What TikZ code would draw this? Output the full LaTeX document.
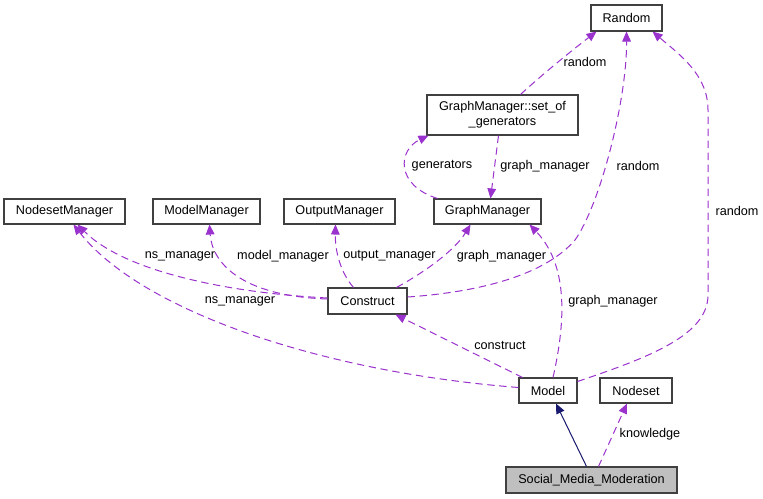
\documentclass[tikz,border=0pt]{standalone}
\usepackage{fontspec}
\setmainfont{Liberation Sans}
\usetikzlibrary{arrows.meta,calc}
\definecolor{edgec}{HTML}{9A32CD}
\definecolor{navyc}{HTML}{191970}
\definecolor{boxc}{HTML}{404040}
\definecolor{grayfill}{HTML}{BFBFBF}
\begin{document}
\begin{tikzpicture}[x=0.75pt,y=-0.75pt,
 cls/.style={draw=boxc,line width=0.8pt,fill=white,inner sep=0pt,align=center,font=\fontsize{9.5}{11}\selectfont},
 dep/.style={draw=edgec,line width=0.75pt,dash pattern=on 5.5pt off 3.5pt,-{Triangle[length=7.5pt,width=6.5pt,fill=edgec]}},
 inh/.style={draw=navyc,line width=0.75pt,-{Triangle[length=7.5pt,width=6.5pt,fill=navyc]}},
 lab/.style={font=\fontsize{9.5}{11}\selectfont,inner sep=0pt}]
\fill[white] (0,0) rectangle (763,499);
\useasboundingbox (0,0) rectangle (763,499);

% classes
\node[cls,minimum width=71*0.75pt,minimum height=26*0.75pt] (Random) at (626.5,18) {Random};
\node[cls,minimum width=151*0.75pt,minimum height=40*0.75pt] (sog) at (502.5,115) {GraphManager::set\_of\\\_generators};
\node[cls,minimum width=107*0.75pt,minimum height=25*0.75pt] (GM) at (487.5,211.5) {GraphManager};
\node[cls,minimum width=121*0.75pt,minimum height=25*0.75pt] (NM) at (64.5,211.5) {NodesetManager};
\node[cls,minimum width=107*0.75pt,minimum height=25*0.75pt] (MM) at (206.5,211.5) {ModelManager};
\node[cls,minimum width=111*0.75pt,minimum height=25*0.75pt] (OM) at (339.5,211.5) {OutputManager};
\node[cls,minimum width=79*0.75pt,minimum height=26*0.75pt] (Construct) at (367.5,301) {Construct};
\node[cls,minimum width=58*0.75pt,minimum height=25*0.75pt] (Model) at (548,390.5) {Model};
\node[cls,minimum width=72*0.75pt,minimum height=25*0.75pt] (Nodeset) at (636,390.5) {Nodeset};
\node[cls,fill=grayfill,minimum width=171*0.75pt,minimum height=26*0.75pt] (SMM) at (591.5,480) {Social\_Media\_Moderation};

% connectors
\draw[dep] ($(sog.north)+(18,0)$) .. controls (545,72) and (575,48) .. ($(Random.south)+(-30,0)$);
\draw[dep] ($(GM.north west)+(4,0)$) .. controls (395,185) and (398,150) .. ($(sog.south west)+(2,0)$);
\draw[dep] ($(sog.south)+(-4,0)$) -- ($(GM.north)+(3,0)$);
\draw[dep] ($(Construct.east)+(0,-4)$) .. controls (480,292) and (545,275) .. (575,240) .. controls (600,205) and (627,100) .. (Random.south);
\draw[dep] ($(Model.east)+(0,-9)$) .. controls (650,357) and (708,335) .. (708,295) -- (708,110) .. controls (708,75) and (680,55) .. ($(Random.south east)+(-10,0)$);
\draw[dep] ($(Construct.west)+(0,-3)$) .. controls (230,293) and (125,272) .. ($(NM.south)+(13,0)$);
\draw[dep] ($(Model.west)+(0,-3)$) .. controls (320,372) and (140,310) .. ($(NM.south)+(9,0)$);
\draw[dep] ($(Construct.west)+(0,-2)$) .. controls (240,296) and (212,262) .. ($(MM.south)+(3,0)$);
\draw[dep] ($(Construct.north)+(-14,0)$) .. controls (340,272) and (335,250) .. ($(OM.south)+(-4,0)$);
\draw[dep] ($(Construct.north)+(29,0)$) .. controls (425,272) and (455,250) .. ($(GM.south)+(-17,0)$);
\draw[dep] ($(Model.north)+(5,0)$) .. controls (566,320) and (568,265) .. ($(GM.south east)+(-12,0)$);
\draw[dep] ($(Model.north west)+(4,0)$) -- ($(Construct.south)+(28,0)$);
\draw[inh] ($(SMM.north)+(-5,0)$) -- ($(Model.south)+(8,0)$);
\draw[dep] ($(SMM.north)+(7,0)$) -- ($(Nodeset.south)+(-9,0)$);

% labels
\node[lab] (l1) at (585,62) {random};
\node[lab] (l2) at (442,166) {generators};
\node[lab] (l3) at (545,166) {graph\_manager};
\node[lab] (l4) at (638,166) {random};
\node[lab] (l5) at (737,211) {random};
\node[lab] (l6) at (180,256) {ns\_manager};
\node[lab] (l7) at (283,256) {model\_manager};
\node[lab] (l8) at (389.5,256) {output\_manager};
\node[lab] (l9) at (501.5,256) {graph\_manager};
\node[lab] (l10) at (240,301) {ns\_manager};
\node[lab] (l11) at (613,301) {graph\_manager};
\node[lab] (l12) at (500,345) {construct};
\node[lab] (l13) at (650,434) {knowledge};
\end{tikzpicture}
\end{document}
